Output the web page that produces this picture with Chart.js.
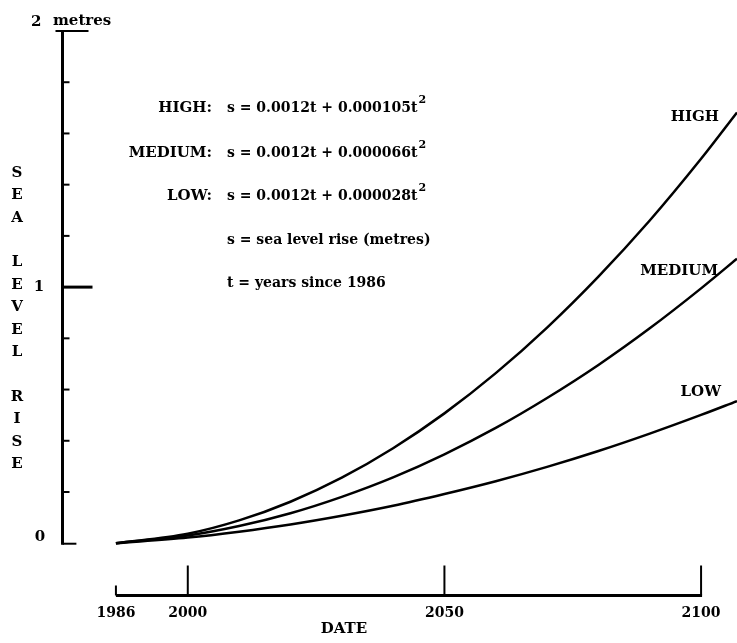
<!DOCTYPE html>
<html>
<head>
<meta charset="utf-8">
<script src="https://cdn.jsdelivr.net/npm/chart.js@4.4.1/dist/chart.umd.min.js"></script>
<style>
  html, body { margin: 0; padding: 0; background: #fff; }
  canvas { display: block; }
</style>
</head>
<body>
<canvas id="slr" width="737" height="643"></canvas>
<script>
// years, values in metres
var years = [1986, 2000, 2010, 2020, 2030, 2040, 2050, 2060, 2070, 2080, 2090, 2100, 2107]
var high = [0, 0.037, 0.089, 0.162, 0.256, 0.371, 0.507, 0.664, 0.842, 1.041, 1.260, 1.501, 1.682]
var medium = [0, 0.030, 0.067, 0.117, 0.181, 0.257, 0.347, 0.450, 0.567, 0.696, 0.839, 0.995, 1.111]
var low = [0, 0.022, 0.045, 0.073, 0.107, 0.146, 0.192, 0.242, 0.298, 0.360, 0.428, 0.501, 0.555]

var xTicks = [1986, 2000, 2050, 2100]
var yTicks = [0, 0.2, 0.4, 0.6, 0.8, 1, 1.2, 1.4, 1.6, 1.8, 2]
var yLabels = ['0', '1', '2']
var yTitle = 'SEA LEVEL RISE'
var xTitle = 'DATE'
var formulas = [
    ['HIGH:', 's = 0.0012t + 0.000105t', '2'],
    ['MEDIUM:', 's = 0.0012t + 0.000066t', '2'],
    ['LOW:', 's = 0.0012t + 0.000028t', '2'],
    ['', 's = sea level rise (metres)', ''],
    ['', 't = years since 1986', '']
]
var curveNames = ['HIGH', 'MEDIUM', 'LOW']

function pts(arr) {
    return years.map(function (y, i) { return { x: y, y: arr[i] } })
}

var FONT = '"DejaVu Serif", serif'

var drawAxes = {
    id: 'drawAxes',
    afterDraw: function (chart) {
        var c = chart.ctx
        var xs = chart.scales.x
        var ys = chart.scales.y
        var area = chart.chartArea
        c.save()
        c.strokeStyle = '#000'
        c.fillStyle = '#000'
        c.lineCap = 'butt'

        // y axis
        var ax = area.left + 1.5
        c.lineWidth = 3
        c.beginPath()
        c.moveTo(ax, ys.getPixelForValue(0) + 1.5)
        c.lineTo(ax, ys.getPixelForValue(2) - 1)
        c.stroke()
        // top cap and bottom stub
        c.lineWidth = 2
        c.beginPath()
        c.moveTo(ax - 7, ys.getPixelForValue(2))
        c.lineTo(ax + 26, ys.getPixelForValue(2))
        c.stroke()
        c.beginPath()
        c.moveTo(ax, ys.getPixelForValue(0) + 0.5)
        c.lineTo(xs.getPixelForValue(1978.3), ys.getPixelForValue(0) + 0.5)
        c.stroke()
        yTicks.forEach(function (v) {
            if (v === 0 || v === 2) return
            var py = ys.getPixelForValue(v)
            c.lineWidth = v === 1 ? 3 : 2
            c.beginPath()
            c.moveTo(ax, py)
            c.lineTo(ax + (v === 1 ? 30 : 7), py)
            c.stroke()
        })

        c.font = 'bold 15px ' + FONT
        c.textBaseline = 'middle'
        c.textAlign = 'center'
        c.fillText(yLabels[0], 40, ys.getPixelForValue(0) - 6)
        c.fillText(yLabels[1], 39, ys.getPixelForValue(1))
        c.textAlign = 'left'
        c.fillText(yLabels[2], 31, ys.getPixelForValue(2) - 9)
        c.fillText('metres', 53, ys.getPixelForValue(2) - 10)

        // stacked axis title
        c.textAlign = 'center'
        var ly = 173
        yTitle.split('').forEach(function (ch) {
            if (ch === ' ') { ly += 22; return }
            c.fillText(ch, 17, ly)
            ly += 22.5
        })

        // x axis, set below the plot
        var by = area.bottom - 1.5
        c.lineWidth = 3
        c.beginPath()
        c.moveTo(xs.getPixelForValue(1986), by)
        c.lineTo(xs.getPixelForValue(2100) + 1, by)
        c.stroke()
        c.lineWidth = 2
        xTicks.forEach(function (t) {
            var px = xs.getPixelForValue(t)
            c.beginPath()
            c.moveTo(px, by)
            c.lineTo(px, by - (t === 1986 ? 10 : 30))
            c.stroke()
        })
        c.font = 'bold 14px ' + FONT
        c.textAlign = 'center'
        xTicks.forEach(function (t) {
            c.fillText(String(t), xs.getPixelForValue(t), 613)
        })
        c.font = 'bold 15px ' + FONT
        c.fillText(xTitle, 344, 629)

        // formula block
        var rows = [108, 153, 196, 240, 283]
        formulas.forEach(function (f, i) {
            c.textAlign = 'right'
            c.font = 'bold 15px ' + FONT
            c.fillText(f[0], 212, rows[i])
            c.textAlign = 'left'
            c.font = 'bold 14px ' + FONT
            c.fillText(f[1], 227, rows[i])
            if (f[2]) {
                var w = c.measureText(f[1]).width
                c.font = 'bold 11px ' + FONT
                c.fillText(f[2], 227 + w + 1, rows[i] - 8)
            }
        })

        // curve names
        c.font = 'bold 15px ' + FONT
        c.textAlign = 'right'
        c.fillText(curveNames[0], 719, 117)
        c.fillText(curveNames[1], 718, 271)
        c.fillText(curveNames[2], 721, 392)
        c.restore()
    }
}

var chartGraph = new Chart(document.getElementById('slr'), {
    type: 'line',
    data: {
        datasets: [
            { label: 'HIGH', data: pts(high) },
            { label: 'MEDIUM', data: pts(medium) },
            { label: 'LOW', data: pts(low) }
        ]
    },
    options: {
        responsive: false,
        animation: false,
        events: [],
        layout: { padding: { left: 61, top: 31, right: 0, bottom: 46 } },
        elements: {
            line: { borderColor: '#000', borderWidth: 2.5, cubicInterpolationMode: 'monotone', fill: false },
            point: { radius: 0 }
        },
        scales: {
            x: { type: 'linear', min: 1975.3, max: 2107, display: false },
            y: { type: 'linear', min: -0.21, max: 2, display: false }
        },
        plugins: {
            legend: { display: false },
            tooltip: { enabled: false }
        }
    },
    plugins: [drawAxes]
})
</script>
</body>
</html>
